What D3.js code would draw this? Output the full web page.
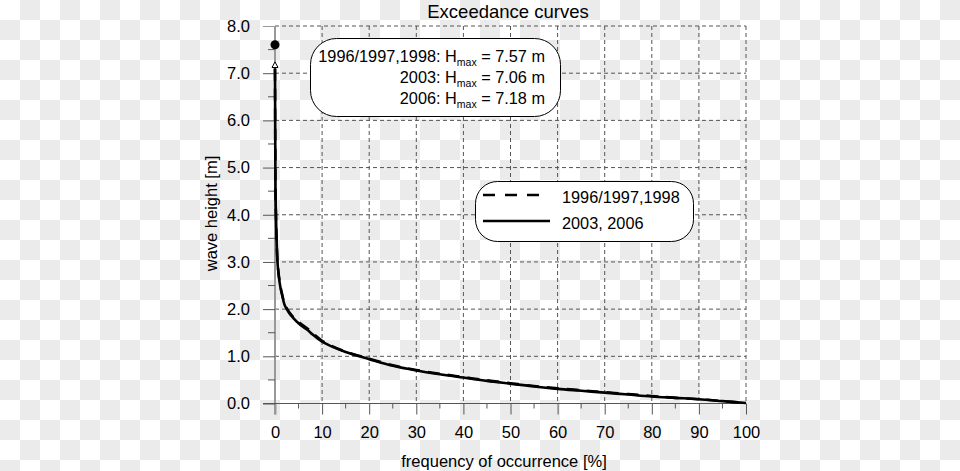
<!DOCTYPE html>
<html><head><meta charset="utf-8">
<script src="https://cdn.jsdelivr.net/npm/d3@7"></script>
<style>
html,body{margin:0;padding:0;background:#fff;}
svg{display:block;font-family:"Liberation Sans",Arial,sans-serif;}
</style></head>
<body>
<svg id="c" width="960" height="471"></svg>
<script>
// ---- data ----
const freq    = [0, 0.05, 0.1, 0.2, 0.3, 0.5, 0.75, 1, 1.5, 2, 2.5, 3, 4, 5, 6, 7, 8, 10, 12, 15, 20, 25, 30, 35, 40, 45, 50, 55, 60, 65, 70, 75, 80, 85, 90, 95, 100];
const h0306   = [7.1, 5.6, 4.6, 4.0, 3.6, 3.05, 2.75, 2.55, 2.3, 2.1, 2.0, 1.92, 1.8, 1.7, 1.62, 1.55, 1.46, 1.31, 1.21, 1.09, 0.94, 0.8, 0.7, 0.62, 0.55, 0.48, 0.42, 0.36, 0.31, 0.27, 0.23, 0.19, 0.15, 0.12, 0.09, 0.05, 0.01];
const h969798 = [7.1, 5.6, 4.6, 4.0, 3.6, 3.06, 2.77, 2.57, 2.32, 2.12, 2.02, 1.94, 1.82, 1.73, 1.65, 1.58, 1.49, 1.33, 1.22, 1.1, 0.95, 0.81, 0.71, 0.63, 0.56, 0.49, 0.43, 0.37, 0.32, 0.28, 0.24, 0.2, 0.16, 0.12, 0.09, 0.05, 0.01];
const hmaxDot = 7.57;
const arrowH  = [7.12, 7.24];
const xTicks = [0,10,20,30,40,50,60,70,80,90,100];
const xMinor = [5,15,25,35,45,55,65,75,85,95];
const yTicks = [0,1,2,3,4,5,6,7,8];
const yMinor = [0.5,1.5,2.5,3.5,4.5,5.5,6.5,7.5];
const annoLines = [["1996/1997,1998: H","max"," = 7.57 m"],["2003: H","max"," = 7.06 m"],["2006: H","max"," = 7.18 m"]];
const legendLabels = ["1996/1997,1998","2003, 2006"];
const title = "Exceedance curves";
const xTitle = "frequency of occurrence [%]";
const yTitle = "wave height [m]";

const svg = d3.select("#c");
// checkerboard background
const defs = svg.append("defs");
const pat = defs.append("pattern").attr("id","chk").attr("width",40).attr("height",40).attr("patternUnits","userSpaceOnUse");
pat.append("rect").attr("width",40).attr("height",40).attr("fill","#fff");
pat.append("rect").attr("x",20).attr("y",0).attr("width",20).attr("height",20).attr("fill","#ebebeb");
pat.append("rect").attr("x",0).attr("y",20).attr("width",20).attr("height",20).attr("fill","#ebebeb");
svg.append("rect").attr("width",960).attr("height",471).attr("fill","url(#chk)");

const x = d3.scaleLinear().domain([0,100]).range([275,746]);
const y = d3.scaleLinear().domain([0,8]).range([403.5,26]);

// grid
svg.append("g").selectAll("line").data(yTicks.slice(1)).join("line")
  .attr("x1",x(0)).attr("x2",x(100)).attr("y1",d=>y(d)).attr("y2",d=>y(d))
  .attr("stroke","#555").attr("stroke-width",1).attr("stroke-dasharray","4,3");
svg.append("g").selectAll("line").data(xTicks.slice(1)).join("line")
  .attr("x1",d=>x(d)).attr("x2",d=>x(d)).attr("y1",y(8)).attr("y2",y(0))
  .attr("stroke","#555").attr("stroke-width",1).attr("stroke-dasharray","4,3");

// y-axis line (gray)
svg.append("line").attr("x1",x(0)).attr("x2",x(0)).attr("y1",y(8)).attr("y2",414.5)
  .attr("stroke","#999").attr("stroke-width",2);

// x axis
const xa = svg.append("g").attr("transform",`translate(0,${y(0)})`)
  .call(d3.axisBottom(x).tickValues(xTicks).tickSize(11).tickSizeOuter(0).tickPadding(12).tickFormat(d3.format("d")));
xa.select(".domain").remove();
xa.selectAll(".tick line").attr("stroke","#555");
xa.selectAll(".tick").filter(d=>d===0).select("line").attr("stroke","#999").attr("stroke-width",2);
xa.selectAll("text").attr("font-size",16.5).attr("fill","#000").attr("font-family","Liberation Sans, Arial, sans-serif");
svg.append("line").attr("x1",263).attr("x2",x(100)).attr("y1",y(0)).attr("y2",y(0)).attr("stroke","#555");
svg.append("g").selectAll("line").data(xMinor).join("line")
  .attr("x1",d=>x(d)).attr("x2",d=>x(d)).attr("y1",y(0)).attr("y2",y(0)+5).attr("stroke","#555");

// y axis
const ya = svg.append("g").attr("transform",`translate(${x(0)},0)`)
  .call(d3.axisLeft(y).tickValues(yTicks).tickSize(12).tickSizeOuter(0).tickPadding(13).tickFormat(d3.format(".1f")));
ya.select(".domain").remove();
ya.selectAll(".tick line").attr("stroke","#555");
ya.selectAll(".tick").filter(d=>d===8).select("line").attr("stroke","#999");
ya.selectAll("text").attr("font-size",16.5).attr("fill","#000").attr("font-family","Liberation Sans, Arial, sans-serif");
svg.append("g").selectAll("line").data(yMinor).join("line")
  .attr("x1",x(0)-7).attr("x2",x(0)).attr("y1",d=>y(d)).attr("y2",d=>y(d)).attr("stroke","#555");

// curves
const line = d3.line().x(d=>x(d[0])).y(d=>y(d[1])).curve(d3.curveMonotoneX);
svg.append("path").datum(freq.map((f,i)=>[f,h0306[i]])).attr("d",line)
  .attr("fill","none").attr("stroke","#000").attr("stroke-width",2.6);
svg.append("path").datum(freq.map((f,i)=>[f,h969798[i]])).attr("d",line)
  .attr("fill","none").attr("stroke","#000").attr("stroke-width",2.6).attr("stroke-dasharray","12,8");

// arrow + dot
svg.append("path")
  .attr("d",`M${x(0)},${y(arrowH[1])} L${x(0)-3},${y(arrowH[0])} L${x(0)+3},${y(arrowH[0])} Z`)
  .attr("fill","#fff").attr("stroke","#000").attr("stroke-width",1);
svg.append("circle").attr("cx",x(0)).attr("cy",y(hmaxDot)-1.5).attr("r",4.5).attr("fill","#000");

// titles
svg.append("text").attr("x",508).attr("y",17.5).attr("text-anchor","middle").attr("font-size",18.5).text(title);
svg.append("text").attr("x",504).attr("y",467).attr("text-anchor","middle").attr("font-size",16.5).text(xTitle);
svg.append("text").attr("transform","translate(217,213.5) rotate(-90)").attr("text-anchor","middle").attr("font-size",16.5).text(yTitle);

// annotation box
svg.append("rect").attr("x",310.5).attr("y",38.5).attr("width",250).attr("height",78).attr("rx",26).attr("ry",26)
  .attr("fill","#fff").attr("stroke","#000").attr("stroke-width",1);
const anno = svg.append("g");
annoLines.forEach((l,i)=>{
  const t = anno.append("text").attr("x",545).attr("y",62+i*20.8).attr("text-anchor","end").attr("font-size",16.3);
  t.append("tspan").text(l[0]);
  t.append("tspan").attr("font-size",10.5).attr("dy",4).text(l[1]);
  t.append("tspan").attr("dy",-4).text(l[2]);
});

// legend
svg.append("rect").attr("x",475.5).attr("y",181.5).attr("width",218).attr("height",60).attr("rx",22).attr("ry",22)
  .attr("fill","#fff").attr("stroke","#000").attr("stroke-width",1);
svg.append("line").attr("x1",483).attr("x2",541).attr("y1",195).attr("y2",195)
  .attr("stroke","#000").attr("stroke-width",2.4).attr("stroke-dasharray","12,10");
svg.append("line").attr("x1",483).attr("x2",550).attr("y1",221).attr("y2",221)
  .attr("stroke","#000").attr("stroke-width",2.4);
legendLabels.forEach((s,i)=>{
  svg.append("text").attr("x",562).attr("y",203+i*26).attr("font-size",16.3).text(s);
});
</script>
</body></html>
